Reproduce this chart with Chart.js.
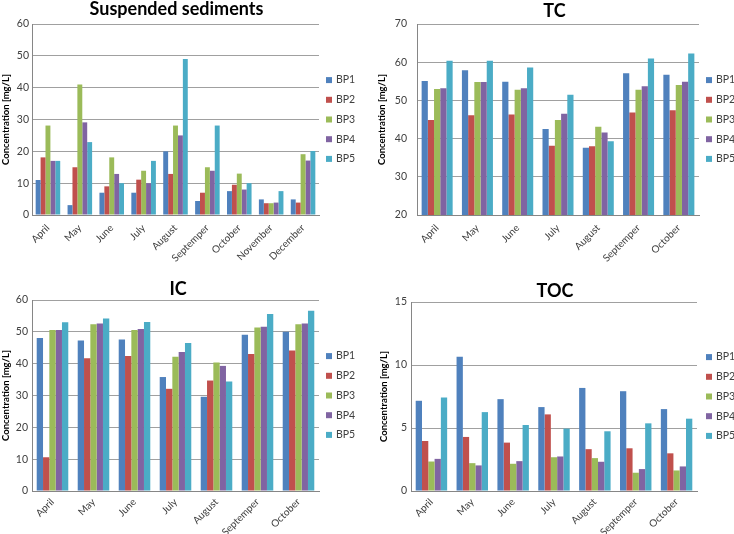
<!DOCTYPE html>
<html>
<head>
<meta charset="utf-8">
<script src="https://cdn.jsdelivr.net/npm/chart.js@4/dist/chart.umd.min.js"></script>
<style>
body{margin:0;background:#fff;}
#wrap{position:relative;width:734px;height:534px;overflow:hidden;}
#wrap canvas{position:absolute;}
</style>
</head>
<body>
<div id="wrap">
  <canvas id="ss" width="367" height="270" style="left:0;top:0"></canvas>
  <canvas id="tc" width="367" height="270" style="left:367px;top:0"></canvas>
  <canvas id="ic" width="367" height="264" style="left:0;top:270px"></canvas>
  <canvas id="toc" width="367" height="264" style="left:367px;top:270px"></canvas>
</div>
<script>
// categories
var monthsLong = ['April','May','June','July','August','Septemper','October','November','December'];
var monthsShort = ['April','May','June','July','August','Septemper','October'];
var seriesNames = ['BP1','BP2','BP3','BP4','BP5'];
var seriesColors = ['#4F81BD','#C0504D','#9BBB59','#8064A2','#4BACC6'];

// suspended sediments
var ssBP1 = [11, 3.1, 7, 7, 20, 4.4, 7.5, 4.9, 4.9];
var ssBP2 = [18.1, 15, 9, 11.1, 12.9, 7, 9.5, 3.7, 3.9];
var ssBP3 = [28.1, 41, 18.1, 13.9, 28.1, 15, 13, 3.7, 19.1];
var ssBP4 = [17, 29.1, 12.9, 10, 25, 13.9, 8, 3.9, 17.1];
var ssBP5 = [17, 22.9, 10, 17, 49, 28.1, 10, 7.5, 20.1];

// TC
var tcBP1 = [55.1, 57.9, 54.9, 42.5, 37.6, 57.1, 56.7];
var tcBP2 = [44.9, 46.1, 46.3, 38.1, 38.0, 46.8, 47.4];
var tcBP3 = [53.0, 54.8, 52.8, 44.9, 43.1, 52.8, 54.0];
var tcBP4 = [53.2, 54.8, 53.2, 46.5, 41.6, 53.7, 54.9];
var tcBP5 = [60.4, 60.4, 58.6, 51.5, 39.3, 61.0, 62.3];

// IC
var icBP1 = [48.1, 47.3, 47.6, 35.8, 29.6, 49.1, 50.0];
var icBP2 = [10.6, 41.7, 42.4, 32.1, 34.7, 43.0, 44.1];
var icBP3 = [50.6, 52.4, 50.6, 42.2, 40.4, 51.4, 52.4];
var icBP4 = [50.6, 52.6, 50.9, 43.7, 39.3, 51.6, 52.6];
var icBP5 = [53.0, 54.2, 53.1, 46.5, 34.4, 55.6, 56.6];

// TOC
var tocBP1 = [7.16, 10.66, 7.29, 6.66, 8.18, 7.92, 6.5];
var tocBP2 = [3.97, 4.29, 3.84, 6.08, 3.32, 3.39, 2.99];
var tocBP3 = [2.34, 2.21, 2.16, 2.68, 2.61, 1.45, 1.63];
var tocBP4 = [2.55, 2.03, 2.37, 2.74, 2.32, 1.74, 1.95];
var tocBP5 = [7.42, 6.26, 5.24, 4.95, 4.74, 5.37, 5.74];

var fontName = 'Lato';

// title + legend drawn at fixed spots, like the excel layout
var panelTextPlugin = {
  id: 'panelText',
  afterDraw: function(chart, args, opts) {
    var ctx = chart.ctx, area = chart.chartArea;
    ctx.save();
    ctx.fillStyle = '#000';
    ctx.font = 'bold 18px ' + fontName;
    ctx.textAlign = 'center';
    ctx.textBaseline = 'alphabetic';
    ctx.fillText(opts.title, opts.titleX, opts.titleY);

    ctx.font = '10.5px ' + fontName;
    ctx.textAlign = 'left';
    ctx.textBaseline = 'middle';
    var mid = (area.top + area.bottom) / 2;
    chart.data.datasets.forEach(function(ds, i) {
      var y = mid + (i - 2) * 19.7;
      var x = area.right + opts.legendOff;
      ctx.fillStyle = ds.backgroundColor;
      ctx.fillRect(x, y - 3, 6, 6);
      ctx.fillStyle = '#404040';
      ctx.fillText(ds.label, x + 10, y);
    });
    ctx.restore();
  }
};

function drawPanel(id, title, months, values, yMin, yMax, yStep, box) {
  var datasets = values.map(function(v, i) {
    return {
      label: seriesNames[i],
      data: v,
      backgroundColor: seriesColors[i],
      borderWidth: 0,
      categoryPercentage: 0.77,
      barPercentage: 1
    };
  });
  var canvas = document.getElementById(id);
  return new Chart(canvas, {
    type: 'bar',
    data: {labels: months, datasets: datasets},
    plugins: [panelTextPlugin],
    options: {
      responsive: false,
      animation: false,
      layout: {padding: {left: 0, right: canvas.width - box.right, top: box.top, bottom: 0}},
      plugins: {
        panelText: {title: title, titleX: box.titleX, titleY: box.titleY, legendOff: box.legendOff},
        title: {display: false},
        legend: {display: false},
        tooltip: {enabled: false}
      },
      scales: {
        x: {
          grid: {display: false},
          border: {display: true, color: '#868686'},
          ticks: {color: '#404040', font: {family: fontName, size: 10},
                  maxRotation: 45, minRotation: 45, autoSkip: false, padding: box.xPad},
          afterFit: function(s) { s.height = canvas.height - box.bottom; }
        },
        y: {
          min: yMin, max: yMax,
          grid: {color: '#a0a0a0', drawTicks: false},
          border: {color: '#868686'},
          ticks: {stepSize: yStep, padding: box.tickPad, color: '#404040',
                  font: {family: fontName, size: 10.5}},
          title: {
            display: true, text: 'Concentration [mg/L]', color: '#000',
            font: {family: fontName, size: 9.5, weight: 'bold'},
            padding: {top: box.yTitlePad, bottom: 0}
          },
          afterFit: function(s) { s.width = box.left; }
        }
      }
    }
  });
}

drawPanel('ss', 'Suspended sediments', monthsLong,
  [ssBP1, ssBP2, ssBP3, ssBP4, ssBP5], 0, 60, 10,
  {left: 32, right: 319, top: 24, bottom: 215, titleX: 176.5, titleY: 15, legendOff: 7, tickPad: 3, yTitlePad: 0, xPad: -1});

drawPanel('tc', 'TC', monthsShort,
  [tcBP1, tcBP2, tcBP3, tcBP4, tcBP5], 20, 70, 10,
  {left: 50, right: 332, top: 24, bottom: 215, titleX: 187.5, titleY: 16.5, legendOff: 7, tickPad: 10, yTitlePad: 9.3, xPad: -1});

drawPanel('ic', 'IC', monthsShort,
  [icBP1, icBP2, icBP3, icBP4, icBP5], 0, 60, 10,
  {left: 32, right: 319, top: 30, bottom: 221, titleX: 178, titleY: 25, legendOff: 7, tickPad: 4, yTitlePad: 0.3, xPad: -3});

drawPanel('toc', 'TOC', monthsShort,
  [tocBP1, tocBP2, tocBP3, tocBP4, tocBP5], 0, 15, 5,
  {left: 44, right: 330, top: 32, bottom: 221, titleX: 188, titleY: 26.5, legendOff: 9, tickPad: 4, yTitlePad: 11.3, xPad: -3});
</script>
</body>
</html>
